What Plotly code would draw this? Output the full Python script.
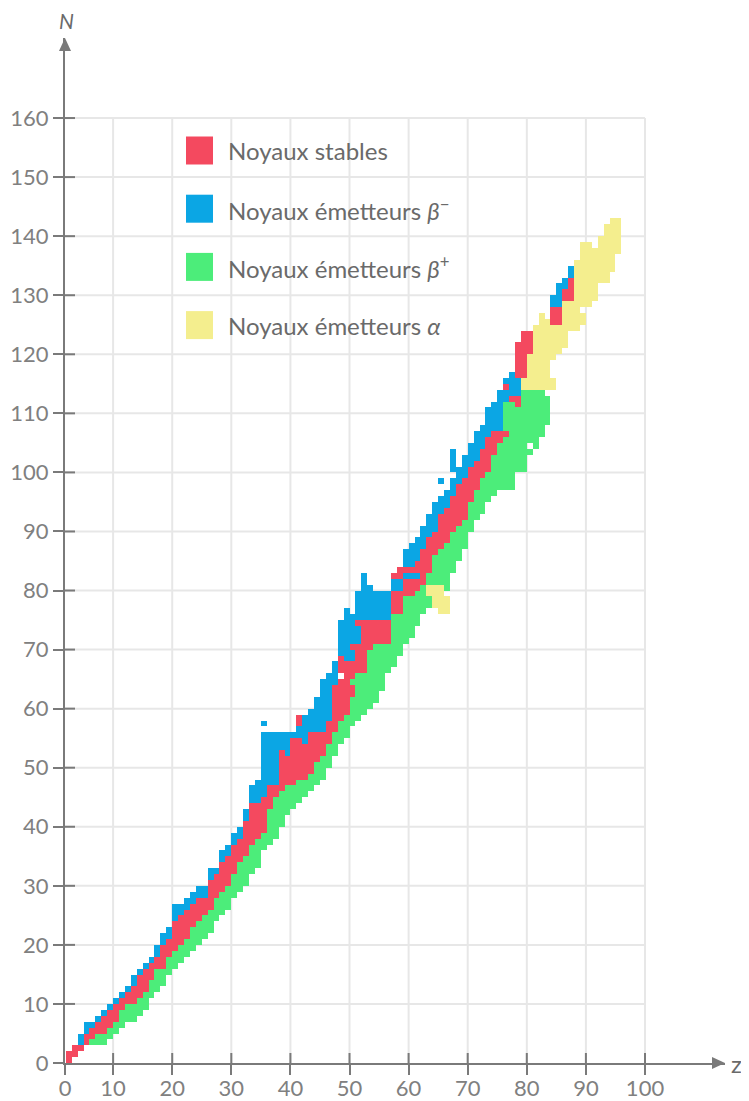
import numpy as np
import plotly.graph_objects as go

# Carte des noyaux (Segre) : N en fonction de Z.
# Each run is (Z, first N, last N).

stables = [
    (2, 0, 1), (3, 1, 2), (4, 2, 2), (5, 3, 4), (6, 4, 5), (7, 5, 6), (8, 5, 7), (9, 6, 8),
    (10, 7, 9), (11, 9, 10), (12, 10, 11), (13, 10, 12), (14, 11, 14), (15, 12, 15),
    (16, 14, 16), (17, 16, 17), (18, 16, 19), (19, 18, 20), (20, 19, 23), (21, 20, 24),
    (22, 21, 25), (23, 23, 26), (24, 24, 27), (25, 25, 27), (26, 26, 30), (27, 28, 31),
    (28, 29, 33), (29, 30, 34), (30, 32, 36), (31, 34, 37), (32, 35, 40), (33, 37, 43),
    (34, 38, 43), (35, 39, 44), (36, 43, 46), (37, 45, 46), (38, 46, 52), (39, 47, 51),
    (40, 47, 54), (41, 48, 54), (41, 57, 58), (42, 48, 53), (43, 49, 55), (44, 51, 55),
    (45, 52, 55), (46, 54, 57), (47, 56, 63), (48, 58, 64), (48, 66, 68), (49, 59, 67),
    (50, 65, 67), (50, 70, 70), (50, 62, 63), (51, 66, 70), (51, 74, 74), (52, 66, 74),
    (53, 70, 74), (54, 71, 74), (55, 71, 74), (56, 71, 74), (57, 76, 79), (57, 82, 82),
    (58, 76, 79), (58, 82, 83), (59, 79, 81), (59, 83, 83), (60, 79, 81), (60, 83, 83),
    (61, 80, 81), (61, 83, 84), (62, 81, 86), (63, 83, 88), (64, 86, 89), (65, 87, 92),
    (66, 88, 93), (67, 90, 95), (68, 91, 97), (69, 92, 98), (70, 95, 100), (71, 97, 101),
    (72, 99, 103), (73, 100, 105), (74, 103, 106), (75, 105, 106), (76, 106, 106),
    (76, 114, 114), (77, 112, 112), (78, 111, 112), (78, 116, 121), (79, 116, 123),
    (80, 120, 123), (84, 125, 127), (85, 125, 127), (86, 129, 130), (87, 129, 132),
]

beta_minus = [
    (4, 3, 4), (5, 5, 6), (6, 6, 6), (7, 7, 7), (8, 8, 8), (9, 9, 9), (10, 10, 10),
    (11, 11, 11), (12, 12, 12), (13, 13, 14), (14, 15, 15), (15, 16, 16), (16, 17, 17),
    (17, 18, 19), (18, 20, 21), (19, 21, 22), (20, 24, 26), (21, 25, 26), (22, 26, 27),
    (23, 27, 28), (24, 28, 29), (25, 28, 29), (26, 31, 32), (27, 32, 32), (28, 34, 35),
    (29, 35, 36), (30, 37, 38), (31, 38, 39), (32, 41, 42), (33, 44, 46), (34, 44, 47),
    (35, 45, 55), (35, 57, 57), (36, 47, 55), (37, 47, 55), (38, 53, 55), (39, 52, 55),
    (40, 55, 55), (41, 55, 56), (42, 54, 58), (43, 56, 59), (44, 56, 61), (45, 56, 64),
    (46, 58, 65), (47, 64, 67), (48, 69, 74), (49, 68, 76), (50, 68, 69), (50, 71, 75),
    (51, 71, 73), (51, 75, 79), (52, 75, 82), (53, 75, 80), (54, 75, 79), (55, 75, 79),
    (56, 75, 79), (57, 80, 81), (58, 80, 81), (59, 82, 82), (59, 84, 86), (60, 82, 82),
    (60, 84, 87), (61, 82, 82), (61, 85, 88), (62, 87, 90), (63, 89, 92), (64, 90, 94),
    (65, 93, 95), (65, 98, 98), (66, 94, 96), (67, 96, 98), (67, 100, 103), (68, 98, 100),
    (69, 99, 102), (70, 101, 104), (71, 102, 106), (72, 104, 107), (73, 106, 110),
    (74, 107, 111), (75, 107, 113), (76, 112, 113), (76, 115, 115), (77, 113, 116),
    (78, 113, 115), (84, 128, 129), (85, 128, 131), (86, 131, 132), (87, 133, 134),
]

beta_plus = [
    (6, 3, 3), (7, 3, 4), (8, 3, 4), (9, 4, 5), (10, 5, 6), (11, 6, 8), (12, 7, 9),
    (13, 7, 9), (14, 8, 10), (15, 9, 11), (16, 11, 13), (17, 12, 15), (18, 13, 15),
    (19, 15, 17), (20, 16, 18), (21, 17, 19), (22, 18, 20), (23, 19, 22), (24, 20, 23),
    (25, 21, 24), (26, 22, 25), (27, 24, 27), (28, 25, 28), (29, 26, 29), (30, 28, 31),
    (31, 29, 33), (32, 30, 34), (33, 32, 36), (34, 33, 37), (35, 36, 38), (36, 37, 42),
    (37, 38, 44), (38, 40, 45), (39, 42, 46), (40, 43, 46), (41, 44, 47), (42, 45, 47),
    (43, 46, 48), (44, 47, 50), (45, 48, 51), (46, 50, 53), (47, 52, 55), (48, 54, 57),
    (49, 55, 58), (50, 57, 64), (51, 58, 65), (52, 59, 65), (53, 60, 69), (54, 61, 70),
    (55, 63, 70), (56, 66, 70), (57, 67, 75), (58, 69, 75), (59, 71, 78), (60, 72, 78),
    (61, 74, 79), (62, 76, 80), (63, 77, 78), (63, 81, 82), (64, 81, 85), (65, 81, 86),
    (66, 80, 87), (67, 83, 89), (68, 85, 90), (69, 87, 91), (70, 90, 94), (71, 92, 96),
    (72, 93, 98), (73, 95, 99), (74, 96, 102), (75, 97, 104), (76, 97, 105), (76, 107, 111),
    (77, 97, 111), (78, 100, 110), (79, 100, 113), (80, 103, 103), (80, 105, 113),
    (81, 104, 113), (82, 106, 113), (83, 108, 112),
]

alpha = [
    (63, 79, 80), (64, 77, 80), (65, 76, 80), (66, 76, 78), (79, 114, 115), (80, 114, 119),
    (81, 114, 124), (82, 114, 126), (83, 114, 125), (84, 114, 115), (84, 119, 124),
    (85, 120, 124), (86, 121, 128), (87, 124, 128), (88, 124, 135), (89, 125, 126),
    (89, 128, 138), (90, 128, 138), (91, 129, 137), (92, 132, 139), (93, 132, 141),
    (94, 134, 142), (95, 137, 142),
]

z_ticks = [10, 20, 30, 40, 50, 60, 70, 80, 90, 100]
n_ticks = [10, 20, 30, 40, 50, 60, 70, 80, 90, 100, 110, 120, 130, 140, 150, 160]

labels = ["Noyaux stables", "Noyaux émetteurs <i>β</i><sup>−</sup>",
          "Noyaux émetteurs <i>β</i><sup>+</sup>", "Noyaux émetteurs <i>α</i>"]
colors = ["#f4495f", "#0ba6e4", "#4ced7a", "#f4ee8e"]

# grid of codes: 0 stable, 1 beta-, 2 beta+, 3 alpha
grid = np.full((150, 100), np.nan)
for code, runs in [(2, beta_plus), (1, beta_minus), (0, stables), (3, alpha)]:
    for z, n0, n1 in runs:
        grid[n0:n1 + 1, z] = code

cscale = []
for i, c in enumerate(colors):
    cscale += [[i / 4, c], [(i + 1) / 4, c]]

fig = go.Figure()
fig.add_trace(go.Heatmap(z=grid, x0=0.5, dx=1, y0=0.5, dy=1, zmin=-0.5, zmax=3.5,
                         colorscale=cscale, showscale=False, hoverinfo="skip"))

# pixel layout of the plot area
W, H = 660, 1025
px_z, px_n = 5.91, 5.906
z_left = 1.86          # the drawn axis sits a little past Z = 0
z_right = z_left + W / px_z
n_top = H / px_n

gray = "#7a7a7a"
grid_col = "#e7e7e7"
shapes = []
for z in z_ticks:
    shapes.append(dict(type="line", x0=z, x1=z, y0=0, y1=160, layer="below",
                       line=dict(color=grid_col, width=2)))
    shapes.append(dict(type="line", x0=z, x1=z, y0=0, y1=10 / px_n, layer="above",
                       line=dict(color=gray, width=2)))
for n in n_ticks:
    shapes.append(dict(type="line", x0=z_left, x1=100, y0=n, y1=n, layer="below",
                       line=dict(color=grid_col, width=2)))
    shapes.append(dict(type="line", x0=z_left, x1=z_left + 10 / px_z, y0=n, y1=n,
                       layer="above", line=dict(color=gray, width=2)))

# arrow heads
ax_len, ax_half = 13, 6
shapes.append(dict(type="path", xref="paper", yref="paper",
                   path=f"M 1,0 L {1 - ax_len / W},{ax_half / H} L {1 - ax_len / W},{-ax_half / H} Z",
                   fillcolor=gray, line=dict(width=0)))
shapes.append(dict(type="path", xref="paper", yref="paper",
                   path=f"M 0,1 L {ax_half / W},{1 - ax_len / H} L {-ax_half / W},{1 - ax_len / H} Z",
                   fillcolor=gray, line=dict(width=0)))

# legend (squares + text), placed in pixels of the plot area
annotations = []
for i, (lab, c) in enumerate(zip(labels, colors)):
    yc = 150.5 + 58.2 * i - 38
    shapes.append(dict(type="rect", xref="paper", yref="paper",
                       x0=(186 - 65) / W, x1=(213 - 65) / W,
                       y0=1 - (yc + 14) / H, y1=1 - (yc - 14) / H,
                       fillcolor=c, line=dict(width=0)))
    annotations.append(dict(xref="paper", yref="paper", x=(226 - 65) / W, y=1 - yc / H,
                            text=lab, showarrow=False, xanchor="left", yanchor="middle",
                            font=dict(family="Lato", size=24, color="#6a6a6a")))

annotations.append(dict(xref="paper", yref="paper", x=(66 - 65) / W, y=1 + 17 / H, text="<i>N</i>",
                        showarrow=False, xanchor="center", yanchor="middle",
                        font=dict(family="Lato", size=21, color="#6a6a6a")))
annotations.append(dict(xref="paper", yref="paper", x=1 + 4 / W, y=0, text="z",
                        showarrow=False, xanchor="left", yanchor="middle",
                        font=dict(family="Lato", size=24, color="#6a6a6a")))

# the page adds an 8 px body margin, so the figure is 8 px smaller than the window
fig.update_layout(
    width=741, height=1093,
    margin=dict(l=57, r=24, t=30, b=38),
    plot_bgcolor="white", paper_bgcolor="white",
    showlegend=False, hovermode=False,
    shapes=shapes, annotations=annotations,
    xaxis=dict(range=[z_left, z_right], showgrid=False, zeroline=False, automargin=False,
               showline=True, linecolor=gray, linewidth=2,
               ticks="outside", ticklen=10, tickwidth=2, tickcolor=gray,
               ticklabelstandoff=-5,
               tickvals=[z_left] + z_ticks, ticktext=["0"] + [str(v) for v in z_ticks],
               tickfont=dict(family="Lato", size=22, color="#808080")),
    yaxis=dict(range=[0, n_top], showgrid=False, zeroline=False, automargin=False,
               showline=True, linecolor=gray, linewidth=2,
               ticks="outside", ticklen=10, tickwidth=2, tickcolor=gray,
               tickvals=[0] + n_ticks,
               tickfont=dict(family="Lato", size=22, color="#808080")),
)

fig.write_html("out.html")
